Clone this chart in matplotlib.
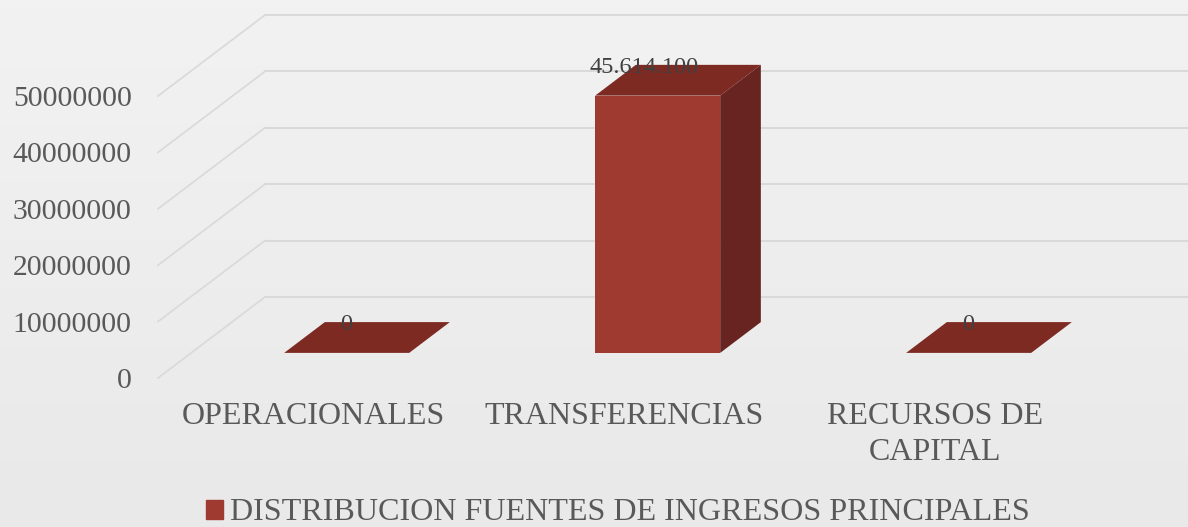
import numpy as np
import matplotlib
matplotlib.use("Agg")
import matplotlib.pyplot as plt
from matplotlib.patches import Polygon, Patch
from matplotlib.transforms import Affine2D

categories = ["OPERACIONALES", "TRANSFERENCIAS", "RECURSOS DE\nCAPITAL"]
values = [0, 45614100, 0]
value_labels = ["0", "45.614.100", "0"]
y_ticks = [0, 10000000, 20000000, 30000000, 40000000, 50000000]
series_name = "DISTRIBUCION FUENTES DE INGRESOS PRINCIPALES"

W, H = 1188, 527
FONT = "Liberation Serif"
TXT = "#595959"
GRID = "#d9d9d9"
FRONT, TOP, SIDE = "#9f3a30", "#7d2a23", "#672420"
DX, DY = 107, 81          # full depth of the floor, pixels
F0, F1 = 0.31, 0.69       # bar depth range as a fraction of floor depth
BAR_W = 0.402

fig = plt.figure(figsize=(W / 100, H / 100), dpi=100)
bg = fig.add_axes([0, 0, 1, 1], zorder=-1)
bg.imshow(np.linspace(0, 1, 64)[:, None],
          cmap=matplotlib.colors.LinearSegmentedColormap.from_list("b", ["#f2f2f2", "#e9e9e9"]),
          aspect="auto", vmin=0, vmax=1)
bg.axis("off")

ax = fig.add_axes([158 / W, 1 - 378 / H, 933 / W, 282 / H])
ax.patch.set_alpha(0)
ax.set_xlim(-0.5, 2.5)
ax.set_ylim(0, 50000000)
for s in ax.spines.values():
    s.set_visible(False)


def depth(f):
    return ax.transData + Affine2D().translate(DX * f, DY * f)


for t in y_ticks:
    p0 = ax.transData.transform((-0.5, t))
    ax.plot([p0[0], p0[0] + DX], [p0[1], p0[1] + DY], transform=None, color=GRID, lw=1.2, clip_on=False, zorder=1)
    ax.plot([-0.5, 2.5], [t, t], transform=depth(1), color=GRID, lw=1.4, clip_on=False, zorder=1)

for i, v in enumerate(values):
    x0, x1 = i - BAR_W / 2, i + BAR_W / 2
    f = depth(F0)
    b = depth(F1)
    pts = lambda tr, xs, ys: tr.transform(np.column_stack([xs, ys]))
    if v > 0:
        ax.add_patch(Polygon(np.vstack([pts(f, [x1, x1], [0, v]), pts(b, [x1, x1], [v, 0])]),
                             transform=None, fc=SIDE, ec="none", zorder=3, clip_on=False))
        ax.add_patch(Polygon(pts(f, [x0, x1, x1, x0], [0, 0, v, v]),
                             transform=None, fc=FRONT, ec="none", zorder=4, clip_on=False))
    ax.add_patch(Polygon(np.vstack([pts(f, [x0, x1], [v, v]), pts(b, [x1, x0], [v, v])]),
                         transform=None, fc=TOP, ec="none", zorder=4, clip_on=False))

label_shift = [-1, -14, -1]
for i, (v, lab) in enumerate(zip(values, value_labels)):
    p = depth(F0).transform((i, v))
    ax.annotate(lab, xy=(p[0], p[1]), xycoords="figure pixels", xytext=(label_shift[i] * 0.72, 28 * 0.72),
                textcoords="offset points", ha="center", va="center", color="#404040",
                fontsize=17.5, family=FONT, zorder=6, annotation_clip=False)

ax.set_yticks(y_ticks)
ax.set_yticklabels([str(t) for t in y_ticks], family=FONT, fontsize=21.4, color=TXT)
ax.set_xticks(range(len(categories)))
ax.set_xticklabels(categories, family=FONT, fontsize=23, color=TXT, linespacing=1.32)
ax.tick_params(axis="both", length=0)
ax.tick_params(axis="y", pad=19)
ax.tick_params(axis="x", pad=17)
for l in ax.get_xticklabels():
    l.set_verticalalignment("top")

fig.legend(handles=[Patch(color=FRONT, label=series_name)], loc="center", bbox_to_anchor=(618 / W, 1 - 513 / H),
           frameon=False, prop={"family": FONT, "size": 23.1}, labelcolor=TXT, handlelength=0.53, handleheight=0.53,
           handletextpad=0.22, borderpad=0)

fig.savefig("out.png", dpi=100)
